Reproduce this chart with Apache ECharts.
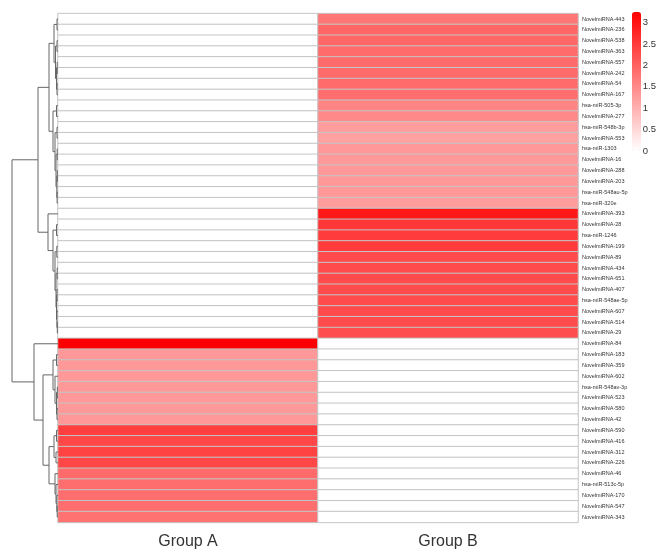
<!DOCTYPE html>
<html>
<head>
<meta charset="utf-8">
<script src="https://cdn.jsdelivr.net/npm/echarts@6/dist/echarts.min.js"></script>
<style>html,body{margin:0;padding:0;background:#fff}#c{width:659px;height:552px}</style>
</head>
<body>
<div id="c"></div>
<script>
// ---- data ----
var groups = ['Group A', 'Group B'];
var rowLabels = [
  'NovelmiRNA-443','NovelmiRNA-236','NovelmiRNA-538','NovelmiRNA-363','NovelmiRNA-557','NovelmiRNA-242',
  'NovelmiRNA-54','NovelmiRNA-167','hsa-miR-505-3p','NovelmiRNA-277','hsa-miR-548b-3p','NovelmiRNA-553',
  'hsa-miR-1303','NovelmiRNA-16','NovelmiRNA-288','NovelmiRNA-203','hsa-miR-548au-5p','hsa-miR-320e',
  'NovelmiRNA-393','NovelmiRNA-28','hsa-miR-1246','NovelmiRNA-199','NovelmiRNA-89','NovelmiRNA-434',
  'NovelmiRNA-651','NovelmiRNA-407','hsa-miR-548ae-5p','NovelmiRNA-607','NovelmiRNA-514','NovelmiRNA-29',
  'NovelmiRNA-84','NovelmiRNA-183','NovelmiRNA-359','NovelmiRNA-602','hsa-miR-548av-3p','NovelmiRNA-523',
  'NovelmiRNA-580','NovelmiRNA-42','NovelmiRNA-590','NovelmiRNA-416','NovelmiRNA-312','NovelmiRNA-226',
  'NovelmiRNA-46','hsa-miR-513c-5p','NovelmiRNA-170','NovelmiRNA-547','NovelmiRNA-343'
];
var groupA = [
  0,0,0,0,0,0,0,0,0,0,0,0,0,0,0,0,0,0,
  0,0,0,0,0,0,0,0,0,0,0,0,
  3.25,1.3,1.3,1.3,1.3,1.3,1.3,1.3,
  2.45,2.35,2.4,2.35,
  1.9,1.85,1.85,1.85,1.8
];
var groupB = [
  1.75,1.95,1.95,1.9,1.9,1.9,1.9,1.85,1.55,1.5,1.25,1.2,1.3,1.3,1.3,1.3,1.3,1.25,
  2.95,2.55,2.5,2.5,2.3,2.3,2.3,2.3,2.3,2.3,2.3,2.25,
  0,0,0,0,0,0,0,0,0,0,0,0,0,0,0,0,0
];
var legendTicks = [0, 0.5, 1, 1.5, 2, 2.5, 3];
var legendMax = 3.25;

// dendrogram: N(height, childA, childB); leaves are 1-based row numbers
function N(h, a, b) { return { h: h, c: [a, b] }; }
var T1a = N(4, N(1, 1, 2), N(2.5, N(1, 3, 4), N(1.5, N(0.8, 5, 6), N(1, 7, 8))));
var T1b = N(5, N(1.5, 9, 10), N(3, N(1, 11, 12), N(2, N(0.8, 13, 14), N(1.2, N(0.7, 15, 16), N(0.9, 17, 18)))));
var T2b = N(5, N(1.5, 20, 21), N(3, N(1.2, 22, 23), N(2, N(0.8, 24, 25), N(1.5, N(1, 26, 27), N(1.1, 28, N(0.7, 29, 30))))));
var topCluster = N(20, N(9, T1a, T1b), N(10, 19, T2b));
var B2a = N(5, N(1.5, 32, 33), N(3, 34, N(1.5, N(0.7, 35, 36), N(1, 37, 38))));
var B2b = N(9, N(4, N(1.5, 39, 40), N(2, 41, 42)), N(3, 43, N(2, 44, N(1.2, 45, N(0.8, 46, 47)))));
var bottomCluster = N(24, 31, N(15, B2a, B2b));
var tree = N(46, topCluster, bottomCluster);

// ---- build ----
var heatData = [];
for (var i = 0; i < rowLabels.length; i++) {
  heatData.push([0, i, groupA[i]]);
  heatData.push([1, i, groupB[i]]);
}
var segs = [];
function walk(n) {
  if (typeof n === 'number') return { y: n - 1, h: 0 };
  var a = walk(n.c[0]), b = walk(n.c[1]);
  segs.push([n.h, a.y, n.h, b.y]);
  segs.push([n.h, a.y, a.h, a.y]);
  segs.push([n.h, b.y, b.h, b.y]);
  return { y: (a.y + b.y) / 2, h: n.h };
}
walk(tree);

var TOP = 13.6, BOTTOM = 552 - 522.4;
var chart = echarts.init(document.getElementById('c'), null, { renderer: 'canvas' });
chart.setOption({
  animation: false,
  backgroundColor: '#ffffff',
  grid: [
    { left: 58, width: 520, top: TOP, bottom: BOTTOM },
    { left: 0, width: 58, top: TOP, bottom: BOTTOM },
    { left: 632, width: 9, top: 12, height: 139 }
  ],
  xAxis: [
    { type: 'category', gridIndex: 0, data: groups, axisLine: { show: false }, axisTick: { show: false },
      axisLabel: { fontSize: 16, color: '#333', margin: 11, fontFamily: 'Liberation Sans, Arial, sans-serif' }, splitLine: { show: false } },
    { type: 'value', gridIndex: 1, min: 0, max: 58, inverse: true, show: false },
    { type: 'value', gridIndex: 2, show: false }
  ],
  yAxis: [
    { type: 'category', gridIndex: 0, data: rowLabels, inverse: true, position: 'right',
      axisLine: { show: false }, axisTick: { show: false },
      axisLabel: { fontSize: 5.5, color: '#333', margin: 4, interval: 0, fontFamily: 'Liberation Sans, Arial, sans-serif' } },
    { type: 'value', gridIndex: 1, min: -0.5, max: rowLabels.length - 0.5, inverse: true, show: false },
    { type: 'value', gridIndex: 2, min: 0, max: legendMax, position: 'right',
      interval: 0.5, axisLine: { show: false }, axisTick: { show: false }, splitLine: { show: false },
      axisLabel: { fontSize: 9.5, color: '#333', margin: 4, fontFamily: 'Liberation Sans, Arial, sans-serif',
        customValues: legendTicks } }
  ],
  visualMap: {
    type: 'continuous', min: 0, max: legendMax, seriesIndex: 0, calculable: false, hoverLink: false,
    left: 632, top: 12, itemWidth: 9, itemHeight: 139, padding: 0, text: null, showLabel: false,
    inRange: { color: ['#ffffff', '#ff0000'] }
  },
  series: [
    { type: 'heatmap', xAxisIndex: 0, yAxisIndex: 0, data: heatData,
      itemStyle: { borderColor: '#c4c4c4', borderWidth: 1 }, emphasis: { disabled: true } },
    { type: 'custom', xAxisIndex: 1, yAxisIndex: 1, data: segs, silent: true,
      renderItem: function (params, api) {
        var p1 = api.coord([api.value(0), api.value(1)]);
        var p2 = api.coord([api.value(2), api.value(3)]);
        return { type: 'line', shape: { x1: p1[0], y1: p1[1], x2: p2[0], y2: p2[1] },
          style: { stroke: '#666', lineWidth: 1 } };
      } }
  ]
});
</script>
</body>
</html>
